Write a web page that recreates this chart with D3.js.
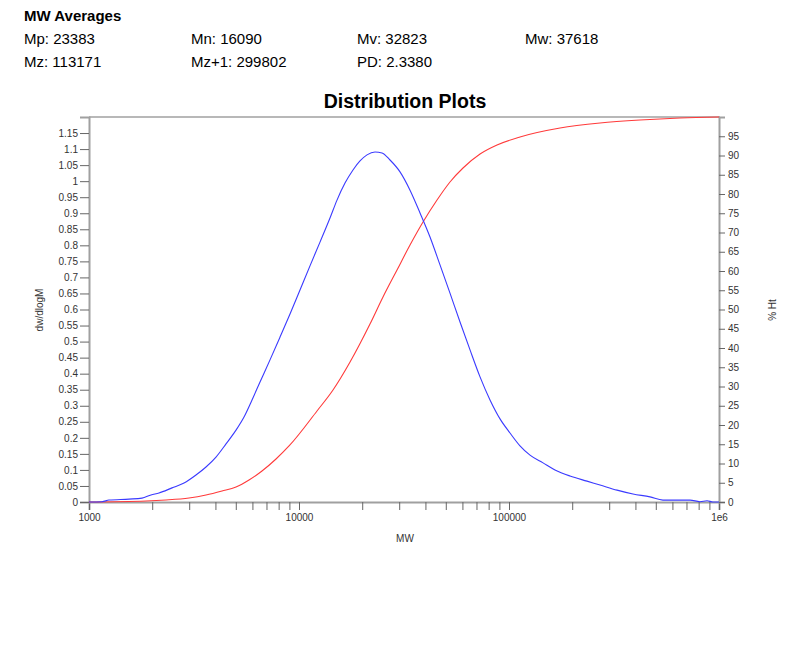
<!DOCTYPE html>
<html>
<head>
<meta charset="utf-8">
<script src="https://cdn.jsdelivr.net/npm/d3@7"></script>
<style>
  body { margin: 0; background: #fff; }
  svg { font-family: "Liberation Sans", Arial, sans-serif; }
</style>
</head>
<body>
<div id="chart"></div>
<script>
// MW averages shown in the header
const avgLabels = [`Mp`, `Mn`, `Mv`, `Mw`, `Mz`, `Mz+1`, `PD`];
const avgValues = [`23383`, `16090`, `32823`, `37618`, `113171`, `299802`, `2.3380`];

// dw/dlogM distribution (blue)
const distMW = [1000, 1153, 1245, 1551, 1788, 1973, 2154, 2485, 2835, 3232, 3607, 4025, 4492, 5012, 5472,
  5974, 6522, 7277, 8120, 9061, 10110, 11280, 12589, 14048, 15170, 16558, 18076, 19520, 21077, 23012,
  24850, 27127, 30269, 33780, 37700, 42060, 46930, 52360, 58445, 65219, 72779, 81200, 90610, 101100,
  112800, 125890, 145200, 165580, 195200, 235200, 271300, 326900, 389500, 469300, 541200, 727800,
  812000, 877100, 936300, 1000000];
const distValues = [0, 0.001, 0.006, 0.009, 0.012, 0.022, 0.028, 0.044, 0.059, 0.084, 0.109, 0.140, 0.181, 0.224, 0.265,
  0.318, 0.374, 0.443, 0.514, 0.586, 0.661, 0.736, 0.810, 0.885, 0.941, 0.994, 1.035, 1.063, 1.082, 1.091,
  1.088, 1.066, 1.029, 0.972, 0.901, 0.826, 0.739, 0.651, 0.561, 0.474, 0.390, 0.318, 0.259, 0.215,
  0.175, 0.146, 0.122, 0.100, 0.081, 0.065, 0.053, 0.037, 0.025, 0.016, 0.006, 0.006,
  0.001, 0.004, 0, 0];

// cumulative % (red)
const cumMW = [1000, 1868, 2326, 2994, 3607, 4299, 5012, 5781, 6665, 7772, 8965, 12182, 14519, 17502, 21780,
  25119, 29290, 33780, 38954, 45420, 52360, 60400, 72780, 87700, 112800, 175000, 271300, 420600, 652000, 1000000];
const cumValues = [0, 0.26, 0.52, 1.04, 1.82, 2.86, 3.9, 5.71, 8.05, 11.17, 14.55, 23.64, 29.09, 36.36, 46.23,
  53.25, 60.26, 66.75, 72.73, 78.44, 83.12, 86.75, 90.39, 92.73, 94.81, 97.14, 98.44, 99.22, 99.74, 100];

const xMajor = [1000, 10000, 100000, 1000000];
const xMajorLabels = [`1000`, `10000`, `100000`, `1e6`];
const leftTicks = d3.range(0, 24).map((i) => +(i * 0.05).toFixed(2));
const rightTicks = d3.range(0, 20).map((i) => i * 5);

const width = 800;
const height = 668;
const plot = { left: 89, right: 719, top: 117, bottom: 502 };

const svg = d3.select(`#chart`).append(`svg`).attr(`width`, width).attr(`height`, height);

// header
svg.append(`text`).attr(`x`, 24).attr(`y`, 21)
  .style(`font-size`, `15px`).style(`font-weight`, `bold`).text(`MW Averages`);
const colX = [24, 191, 357, 525];
avgLabels.forEach((l, i) => {
  svg.append(`text`)
    .attr(`x`, colX[i % 4])
    .attr(`y`, i < 4 ? 44 : 67)
    .style(`font-size`, `15px`)
    .text(`${l}: ${avgValues[i]}`);
});

svg.append(`text`).attr(`x`, 405).attr(`y`, 108).attr(`text-anchor`, `middle`)
  .style(`font-size`, `19.5px`).style(`font-weight`, `bold`).text(`Distribution Plots`);

const x = d3.scaleLog().domain([1000, 1e6]).range([plot.left, plot.right]);
const yL = d3.scaleLinear().domain([0, 1.2]).range([plot.bottom, plot.top]);
const yR = d3.scaleLinear().domain([0, 100]).range([plot.bottom, plot.top]);

// x ticks: majors + 2..9 minors
const xTicks = [];
[1000, 10000, 100000].forEach((d) => d3.range(1, 10).forEach((m) => xTicks.push(d * m)));
xTicks.push(1e6);

const styleAxis = (g) => {
  g.select(`.domain`).attr(`stroke`, `#a0a0a0`).attr(`stroke-width`, 2);
  g.selectAll(`.tick line`).attr(`stroke`, `#666`);
  g.selectAll(`.tick text`).attr(`fill`, `#333`).style(`font-size`, `10px`).style(`font-family`, `"Liberation Sans", Arial, sans-serif`);
};

svg.append(`g`)
  .attr(`transform`, `translate(0,${plot.bottom})`)
  .call(d3.axisBottom(x).tickValues(xTicks).tickSizeOuter(0).tickSize(8).tickPadding(4)
    .tickFormat((d) => {
      const i = xMajor.indexOf(d);
      return i >= 0 ? xMajorLabels[i] : ``;
    }))
  .call(styleAxis);

svg.append(`g`)
  .attr(`transform`, `translate(${plot.left},0)`)
  .call(d3.axisLeft(yL).tickValues(leftTicks).tickSizeOuter(0).tickSize(9).tickPadding(2)
    .tickFormat((d) => String(d)))
  .call(styleAxis);

svg.append(`g`)
  .attr(`transform`, `translate(${plot.right},0)`)
  .call(d3.axisRight(yR).tickValues(rightTicks).tickSizeOuter(0).tickSize(6).tickPadding(3)
    .tickFormat((d) => String(d)))
  .call(styleAxis);

// top border
svg.append(`line`)
  .attr(`x1`, plot.left).attr(`x2`, plot.right + 1)
  .attr(`y1`, plot.top).attr(`y2`, plot.top)
  .attr(`stroke`, `#a0a0a0`).attr(`stroke-width`, 1.5);

// axis titles
svg.append(`text`).attr(`transform`, `translate(43,310) rotate(-90)`).attr(`text-anchor`, `middle`)
  .attr(`fill`, `#333`).style(`font-size`, `10px`).text(`dw/dlogM`);
svg.append(`text`).attr(`transform`, `translate(776,310) rotate(-90)`).attr(`text-anchor`, `middle`)
  .attr(`fill`, `#333`).style(`font-size`, `10px`).text(`% Ht`);
svg.append(`text`).attr(`x`, 405).attr(`y`, 542).attr(`text-anchor`, `middle`)
  .attr(`fill`, `#333`).style(`font-size`, `10px`).text(`MW`);

// curves
const cumLine = d3.line().x((d) => x(d[0])).y((d) => yR(d[1])).curve(d3.curveMonotoneX);
const distLine = d3.line().x((d) => x(d[0])).y((d) => yL(d[1])).curve(d3.curveMonotoneX);

svg.append(`path`)
  .datum(cumMW.map((m, i) => [m, cumValues[i]]))
  .attr(`d`, cumLine)
  .attr(`fill`, `none`).attr(`stroke`, `#ff3a3a`).attr(`stroke-width`, 1.1);

svg.append(`path`)
  .datum(distMW.map((m, i) => [m, distValues[i]]))
  .attr(`d`, distLine)
  .attr(`fill`, `none`).attr(`stroke`, `#3a3aff`).attr(`stroke-width`, 1.1);
</script>
</body>
</html>
